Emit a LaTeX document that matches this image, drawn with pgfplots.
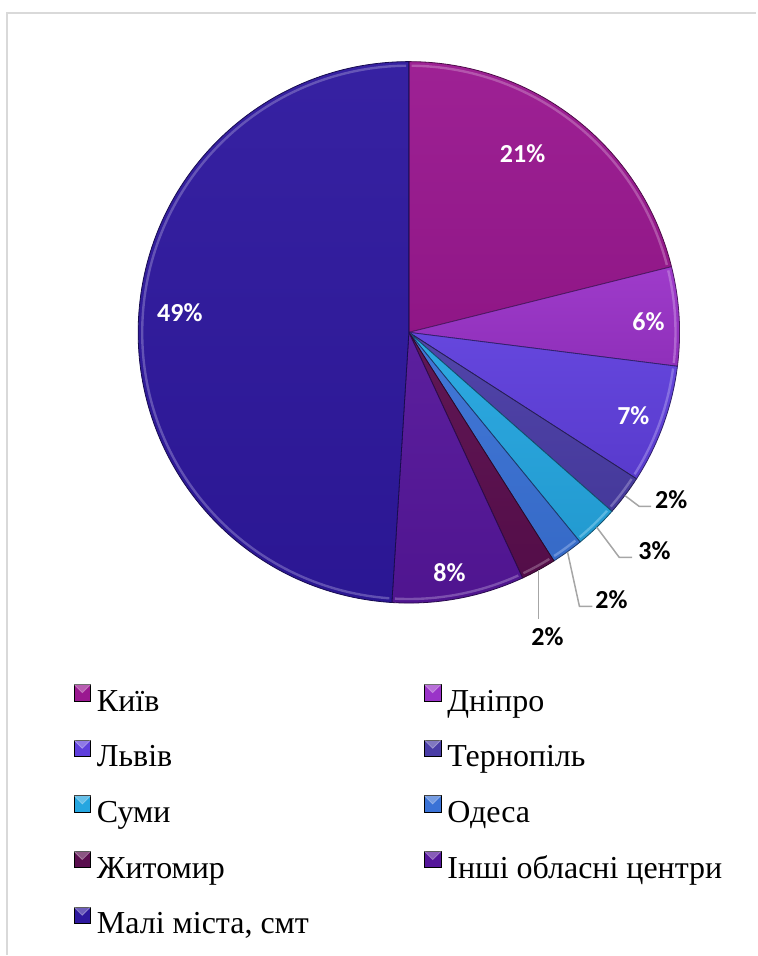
\documentclass[border=0pt]{standalone}
\usepackage{pgfplots}
\usepackage{pgfplotstable}
\usepackage{fontspec}
\pgfplotsset{compat=1.18}
\setmainfont{Liberation Serif}
\newfontfamily\legfont{Liberation Serif}
\newfontfamily\labfont{Carlito}

% slice colours, in table order
\definecolor{c0}{HTML}{9A1890}
\definecolor{c1}{HTML}{9A33C8}
\definecolor{c2}{HTML}{5F3FDC}
\definecolor{c3}{HTML}{4A3DA6}
\definecolor{c4}{HTML}{25A6E0}
\definecolor{c5}{HTML}{3A72D6}
\definecolor{c6}{HTML}{5A0E4E}
\definecolor{c7}{HTML}{55169A}
\definecolor{c8}{HTML}{2E189E}
\definecolor{lead}{HTML}{A6A6A6}
\definecolor{frame}{HTML}{D9D9D9}

% value = share in %, la/lr = label angle and radius, txt = shown label, in = label inside
\pgfplotstableread{
value la    lr    txt in
21.1  57.5  0.782 21  1
5.9   2.6   0.886 6   1
7.1   -20.3 0.884 7   1
2.4   -32.5 1.149 2   0
2.6   -41.6 1.213 3   0
1.9   -52.8 1.238 2   0
2.1   -65.5 1.234 2   0
7.9   -80.4 0.899 8   1
49.0  175.1 0.849 49  1
}\piedata

% start/end angles of the slices, clockwise from the top
\def\cumsum{0}
\pgfplotsforeachungrouped \i in {0,...,8}{%
  \pgfplotstablegetelem{\i}{value}\of\piedata
  \pgfmathsetmacro\newcum{\cumsum+\pgfplotsretval}%
  \pgfmathsetmacro\sa{90-3.6*\cumsum}%
  \pgfmathsetmacro\ea{90-3.6*\newcum}%
  \expandafter\xdef\csname sa\i\endcsname{\sa}%
  \expandafter\xdef\csname ea\i\endcsname{\ea}%
  \xdef\cumsum{\newcum}%
  \pgfplotstablegetelem{\i}{la}\of\piedata
  \expandafter\xdef\csname la\i\endcsname{\pgfplotsretval}%
  \pgfplotstablegetelem{\i}{lr}\of\piedata
  \expandafter\xdef\csname lr\i\endcsname{\pgfplotsretval}%
  \pgfplotstablegetelem{\i}{txt}\of\piedata
  \expandafter\xdef\csname lt\i\endcsname{\pgfplotsretval}%
  \pgfplotstablegetelem{\i}{in}\of\piedata
  \ifnum\pgfplotsretval=1 \expandafter\xdef\csname lc\i\endcsname{white}%
  \else \expandafter\xdef\csname lc\i\endcsname{black}\fi
}

\def\R{135.5pt}

\begin{document}
\begin{tikzpicture}
\begin{axis}[
    hide axis,
    scale only axis,
    x=135.5pt, y=135.5pt,
    xmin=-1.5103, xmax=1.2830,
    ymin=-2.3000, ymax=1.2277,
    clip=false,
    legend columns=2,
    legend cell align=left,
    legend image code/.code={
        \fill[#1] (0pt,1.15pt) rectangle (8.3pt,9.45pt);
        \fill[white, opacity=0.3] (0pt,9.45pt) -- (8.3pt,9.45pt) -- (4.15pt,5.3pt) -- cycle;},
    legend style={at={(axis cs:-1.2399,-1.2974)}, anchor=north west,
        draw=none, fill=none, inner sep=0pt,
        column sep=3pt, row sep=10.2pt,
        nodes={inner sep=0pt, text height=12pt, text depth=4pt},
        font=\legfont\fontsize{16}{19}\selectfont},
]
% chart frame
\draw[frame, line width=1pt] (axis cs:-1.486,-2.30) -- (axis cs:-1.486,1.178) -- (axis cs:1.283,1.178);

\pgfplotsinvokeforeach{0,...,8}{
  \path[top color=c#1!96!white, bottom color=c#1!93!black, draw=c#1!50!black, line width=0.4pt]
    (axis cs:0,0) -- (axis cs:{cos(\csname sa#1\endcsname)},{sin(\csname sa#1\endcsname)})
    arc[start angle=\csname sa#1\endcsname, end angle=\csname ea#1\endcsname, radius=\R] -- cycle;
  % soft bevel along the rim
  \draw[c#1!55!white, line width=1.2pt, opacity=0.55]
    (axis cs:{0.985*cos(\csname sa#1\endcsname-0.6)},{0.985*sin(\csname sa#1\endcsname-0.6)})
    arc[start angle=\csname sa#1\endcsname-0.6, end angle=\csname ea#1\endcsname+0.6, radius=0.985*\R];
}

% leader lines of the small slices
\draw[lead, line width=0.75pt] (axis cs:0.798,-0.603) -- (axis cs:0.851,-0.643) -- (axis cs:0.895,-0.643);
\draw[lead, line width=0.75pt] (axis cs:0.694,-0.720) -- (axis cs:0.777,-0.831) -- (axis cs:0.825,-0.831);
\draw[lead, line width=0.75pt] (axis cs:0.586,-0.811) -- (axis cs:0.630,-1.012) -- (axis cs:0.678,-1.012);
\draw[lead, line width=0.75pt] (axis cs:0.479,-0.878) -- (axis cs:0.479,-1.060);

\pgfplotsinvokeforeach{0,...,8}{
  \node[text=\csname lc#1\endcsname, inner sep=0pt,
        font=\labfont\bfseries\fontsize{13}{15}\selectfont]
    at (axis cs:{\csname lr#1\endcsname*cos(\csname la#1\endcsname)},{\csname lr#1\endcsname*sin(\csname la#1\endcsname)})
    {\csname lt#1\endcsname\%};
}

\addlegendimage{fill=c0}\addlegendentry{\makebox[160.7pt][l]{Київ}}
\addlegendimage{fill=c1}\addlegendentry{Дніпро}
\addlegendimage{fill=c2}\addlegendentry{\makebox[160.7pt][l]{Львів}}
\addlegendimage{fill=c3}\addlegendentry{Тернопіль}
\addlegendimage{fill=c4}\addlegendentry{\makebox[160.7pt][l]{Суми}}
\addlegendimage{fill=c5}\addlegendentry{Одеса}
\addlegendimage{fill=c6}\addlegendentry{\makebox[160.7pt][l]{Житомир}}
\addlegendimage{fill=c7}\addlegendentry{Інші обласні центри}
\addlegendimage{fill=c8}\addlegendentry{\makebox[160.7pt][l]{Малі міста, смт}}
\end{axis}
\path (current axis.south west) rectangle (current axis.north east);
\end{tikzpicture}
\end{document}
